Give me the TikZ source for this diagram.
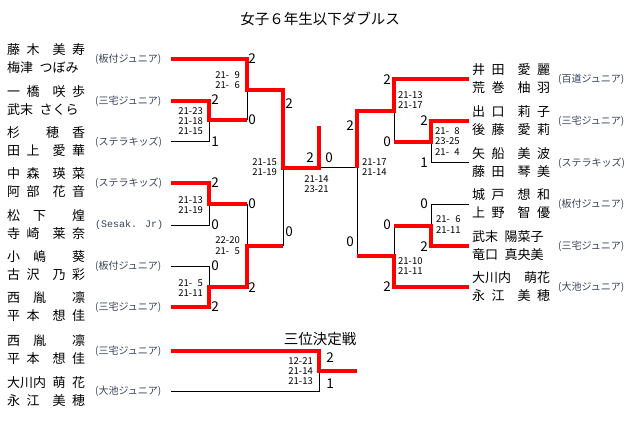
\documentclass[tikz,border=0pt]{standalone}
\usepackage{fontspec}
\newfontfamily\jp{Noto Sans CJK JP}
\newfontfamily\monof{Liberation Mono}
\usepackage{tikz}
\definecolor{teamc}{RGB}{55,65,90}
\newcommand{\hgap}{\hspace{0.5em}}
\newcommand{\fgap}{\hspace{1em}}
\newcommand{\pz}{\phantom{0}}
\tikzset{
  win/.style={red, line width=3.6pt},
  lose/.style={black, line width=1pt},
  player/.style={anchor=west, inner sep=0pt, font=\jp\fontsize{13}{13}\selectfont},
  club/.style={anchor=west, inner sep=0pt, text=teamc, font=\jp\fontsize{10}{10}\selectfont},
  sets/.style={inner sep=0pt, font=\jp\fontsize{13.5}{13.5}\selectfont},
  games/.style={inner sep=0pt, align=right, font=\jp\fontsize{9.5}{10.3}\selectfont},
}
\begin{document}
\begin{tikzpicture}[x=1pt,y=-1pt]
\useasboundingbox (0,0) rectangle (640,441);
\node[font=\jp\fontsize{14.5}{14.5}\selectfont] (title) at (320,19) {女子６年生以下ダブルス};

%%%%% left half entrants
\coordinate (a1) at (171,59);
\coordinate (a2) at (171,101);
\coordinate (a3) at (171,142);
\coordinate (a4) at (171,183);
\coordinate (a5) at (171,225);
\coordinate (a6) at (171,266);
\coordinate (a7) at (171,307);
\node[player] (pa1) at (7,50) {藤\hgap{}木\fgap{}美\hgap{}寿};
\node[player] (qa1) at (7,68) {梅津\hgap{}つぼみ};
\node[club] (ca1) at (95,59) {(板付ジュニア)};
\node[player] (pa2) at (7,92) {一\hgap{}橋\fgap{}咲\hgap{}歩};
\node[player] (qa2) at (7,110) {武末\hgap{}さくら};
\node[club] (ca2) at (95,101) {(三宅ジュニア)};
\node[player] (pa3) at (7,133) {杉\fgap\fgap{}穂\fgap{}香};
\node[player] (qa3) at (7,151) {田\hgap{}上\fgap{}愛\hgap{}華};
\node[club] (ca3) at (95,142) {(ステラキッズ)};
\node[player] (pa4) at (7,174) {中\hgap{}森\fgap{}瑛\hgap{}菜};
\node[player] (qa4) at (7,192) {阿\hgap{}部\fgap{}花\hgap{}音};
\node[club] (ca4) at (95,183) {(ステラキッズ)};
\node[player] (pa5) at (7,216) {松\fgap{}下\fgap\fgap{}煌};
\node[player] (qa5) at (7,234) {寺\hgap{}崎\fgap{}莱\hgap{}奈};
\node[club, font=\monof\fontsize{10}{10}\selectfont] (ca5) at (95,225) {(Sesak. Jr)};
\node[player] (pa6) at (7,257) {小\fgap{}嶋\fgap\fgap{}葵};
\node[player] (qa6) at (7,275) {古\hgap{}沢\fgap{}乃\hgap{}彩};
\node[club] (ca6) at (95,266) {(板付ジュニア)};
\node[player] (pa7) at (7,298) {西\fgap{}胤\fgap\fgap{}凛};
\node[player] (qa7) at (7,316) {平\hgap{}本\fgap{}想\hgap{}佳};
\node[club] (ca7) at (95,307) {(三宅ジュニア)};

%%%%% right half entrants
\coordinate (b1) at (469,79);
\coordinate (b2) at (469,121);
\coordinate (b3) at (469,163);
\coordinate (b4) at (469,204);
\coordinate (b5) at (469,246);
\coordinate (b6) at (469,287);
\node[player] (pb1) at (472,70) {井\hgap{}田\fgap{}愛\hgap{}麗};
\node[player] (qb1) at (472,88) {荒\hgap{}巻\fgap{}柚\hgap{}羽};
\node[club] (cb1) at (558,79) {(百道ジュニア)};
\node[player] (pb2) at (472,112) {出\hgap{}口\fgap{}莉\hgap{}子};
\node[player] (qb2) at (472,130) {後\hgap{}藤\fgap{}愛\hgap{}莉};
\node[club] (cb2) at (558,121) {(三宅ジュニア)};
\node[player] (pb3) at (472,154) {矢\hgap{}船\fgap{}美\hgap{}波};
\node[player] (qb3) at (472,172) {藤\hgap{}田\fgap{}琴\hgap{}美};
\node[club] (cb3) at (558,163) {(ステラキッズ)};
\node[player] (pb4) at (472,195) {城\hgap{}戸\fgap{}想\hgap{}和};
\node[player] (qb4) at (472,213) {上\hgap{}野\fgap{}智\hgap{}優};
\node[club] (cb4) at (558,204) {(板付ジュニア)};
\node[player] (pb5) at (472,237) {武末\hgap{}陽菜子};
\node[player] (qb5) at (472,255) {竜口\hgap{}真央美};
\node[club] (cb5) at (558,246) {(三宅ジュニア)};
\node[player] (pb6) at (472,278) {大川内\fgap{}萌花};
\node[player] (qb6) at (472,296) {永\hgap{}江\fgap{}美\hgap{}穂};
\node[club] (cb6) at (558,287) {(大池ジュニア)};

%%%%% third place entrants
\coordinate (c1) at (171,351);
\coordinate (c2) at (171,391);
\node[player] (pc1) at (7,341) {西\fgap{}胤\fgap\fgap{}凛};
\node[player] (qc1) at (7,359) {平\hgap{}本\fgap{}想\hgap{}佳};
\node[club] (cc1) at (95,351) {(三宅ジュニア)};
\node[player] (pc2) at (7,383) {大川内\hgap{}萌\hgap{}花};
\node[player] (qc2) at (7,401) {永\hgap{}江\fgap{}美\hgap{}穂};
\node[club] (cc2) at (95,391) {(大池ジュニア)};
\node[font=\jp\fontsize{14.5}{14.5}\selectfont] (third) at (320,339) {三位決定戦};

%%%%% junctions
\coordinate (m1) at (209,120);
\coordinate (m2) at (209,204);
\coordinate (m3) at (209,287);
\coordinate (m4) at (247,90);
\coordinate (m5) at (247,246);
\coordinate (m6) at (283,168);
\coordinate (fin) at (319,168);
\coordinate (champ) at (319,126);
\coordinate (n1) at (431,142);
\coordinate (n2) at (431,226);
\coordinate (n3) at (394,111);
\coordinate (n4) at (394,256);
\coordinate (n6) at (357,168);
\coordinate (t) at (319,371);
\coordinate (tend) at (357,371);

%%%%% losing lines
\draw[lose] (a3) -| (m1);
\draw[lose] (m4) -- (m1 -| m4);
\draw[lose] (a5) -| (m2);
\draw[lose] (a6) -| (m3);
\draw[lose] (m2 -| m5) -- (m5);
\draw[lose] (m6) -- (m5 -| m6);
\draw[lose] (fin) -- (n6);
\draw[lose] (b3) -| (n1);
\draw[lose] (n3) -- (n1 -| n3);
\draw[lose] (b4) -| (n2);
\draw[lose] (n2 -| n4) -- (n4);
\draw[lose] (n6) -- (n4 -| n6);
\draw[lose] (c2) -| (t);

%%%%% winning lines
\draw[win] (a1) -| (m4) -- (m4 -| m6) -- (m6) -- (fin) -- (champ);
\draw[win] (a2) -| (m1) -- (m1 -| m4);
\draw[win] (a4) -| (m2) -- (m2 -| m5);
\draw[win] (a7) -| (m3) -- (m3 -| m5) -- (m5) -- (m5 -| m6);
\draw[win] (b1) -| (n3) -- (n3 -| n6) -- (n6);
\draw[win] (b2) -| (n1) -- (n1 -| n3);
\draw[win] (b5) -| (n2) -- (n2 -| n4);
\draw[win] (b6) -| (n4) -- (n4 -| n6);
\draw[win] (c1) -| (t) -- (tend);

%%%%% sets won
\node[sets] (sa1) at (252,59) {2};
\node[sets] (sa2) at (215,100) {2};
\node[sets] (sm1) at (252,120) {0};
\node[sets] (sa3) at (215,142) {1};
\node[sets] (sa4) at (215,183) {2};
\node[sets] (sa5) at (215,225) {0};
\node[sets] (sm2) at (252,204) {0};
\node[sets] (sa6) at (215,266) {0};
\node[sets] (sa7) at (215,307) {2};
\node[sets] (sm3) at (252,288) {2};
\node[sets] (sm4) at (289,104) {2};
\node[sets] (sm5) at (289,232) {0};
\node[sets] (sfl) at (310,158) {2};
\node[sets] (sfr) at (329,158) {0};
\node[sets] (sb1) at (387,80) {2};
\node[sets] (sb2) at (424,121) {2};
\node[sets] (sn1) at (387,142) {0};
\node[sets] (sb3) at (424,163) {1};
\node[sets] (sn3) at (350,126) {2};
\node[sets] (sb4) at (424,204) {0};
\node[sets] (sn2) at (387,225) {0};
\node[sets] (sb5) at (424,247) {2};
\node[sets] (sn4) at (350,242) {0};
\node[sets] (sb6) at (387,287) {2};
\node[sets] (sc1) at (330,358) {2};
\node[sets] (sc2) at (330,384) {1};

%%%%% game scores
\node[games, anchor=east] (g1) at (240,80) {21-\pz9\\21-\pz6};
\node[games, anchor=east] (g2) at (203,121) {21-23\\21-18\\21-15};
\node[games, anchor=east] (g3) at (277,167) {21-15\\21-19};
\node[games, anchor=east] (g4) at (203,205) {21-13\\21-19};
\node[games, anchor=east] (g5) at (240,245.5) {22-20\\21-\pz5};
\node[games, anchor=east] (g6) at (203,288) {21-\pz5\\21-11};
\node[games] (gf) at (316.5,184) {21-14\\23-21};
\node[games, anchor=west] (h1) at (398,100) {21-13\\21-17};
\node[games, anchor=west] (h2) at (435,141.5) {21-\pz8\\23-25\\21-\pz4};
\node[games, anchor=west] (h3) at (362,167) {21-17\\21-14};
\node[games, anchor=west] (h4) at (436,224.5) {21-\pz6\\21-11};
\node[games, anchor=west] (h5) at (398,266) {21-10\\21-11};
\node[games, anchor=east] (gt) at (313,371) {12-21\\21-14\\21-13};
\end{tikzpicture}
\end{document}
